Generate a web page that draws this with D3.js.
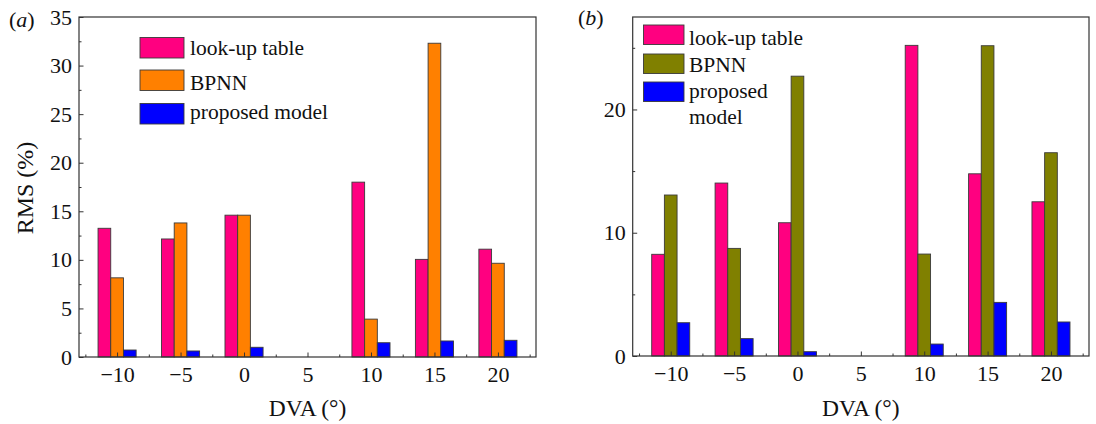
<!DOCTYPE html>
<html>
<head>
<meta charset="utf-8">
<script src="https://cdn.jsdelivr.net/npm/d3@7"></script>
<style>
  html, body { margin: 0; padding: 0; background: #fff; }
  svg { display: block; }
  svg text { font-family: "Liberation Serif", "Times New Roman", Times, Tinos, "DejaVu Serif", serif; fill: #111; }
</style>
</head>
<body>
<svg id="chart" width="1096" height="424"></svg>
<script>
// DVA positions with bars (no measurement at 5°)
const categories = [-10, -5, 0, 10, 15, 20];
const xTickValues = [-10, -5, 0, 5, 10, 15, 20];
const seriesNames = ["look-up table", "BPNN", "proposed model"];

// Panel (a) RMS (%)
const lookupA   = [13.25, 12.15, 14.6, 18.0, 10.05, 11.1];
const bpnnA     = [8.15, 13.8, 14.6, 3.9, 32.3, 9.65];
const proposedA = [0.72, 0.62, 1.0, 1.47, 1.65, 1.72];

// Panel (b) RMS (%)
const lookupB   = [8.25, 14.03, 10.81, 25.2, 14.78, 12.51];
const bpnnB     = [13.06, 8.73, 22.7, 8.27, 25.17, 16.49];
const proposedB = [2.7, 1.41, 0.35, 0.97, 4.35, 2.76];

const yTicksA = [0, 5, 10, 15, 20, 25, 30, 35];
const yMinorA = [2.5, 7.5, 12.5, 17.5, 22.5, 27.5, 32.5];
const yTicksB = [0, 10, 20];
const yMinorB = [5, 15, 25];
const xMinor = [-12.5, -7.5, -2.5, 2.5, 7.5, 12.5, 17.5, 22.5];

const serif = '"Liberation Serif", "Times New Roman", Times, Tinos, "DejaVu Serif", serif';
const svg = d3.select("#chart").attr("font-family", serif);
const fmt = d => d < 0 ? "\u2212" + Math.abs(d) : String(d);

function panel(opts) {
  const x = d3.scaleLinear().domain([-13, 23]).range([opts.left, opts.right]);
  const y = d3.scaleLinear().domain(opts.yDomain).range([opts.bottom, opts.top]);
  const g = svg.append("g");
  const unit = x(1) - x(0);

  // bars
  opts.series.forEach((vals, si) => {
    g.append("g").selectAll("rect")
      .data(vals.map((v, i) => ({ c: categories[i], v })))
      .join("rect")
      .attr("x", d => x(d.c + (si - 1) - 0.5))
      .attr("width", unit)
      .attr("y", d => y(d.v))
      .attr("height", d => y(0) - y(d.v))
      .attr("fill", opts.colors[si])
      .attr("stroke", "#3a3a3a")
      .attr("stroke-width", 0.9);
  });

  // x axis (major + minor, inward ticks)
  const xAxis = g.append("g").attr("transform", `translate(0,${opts.bottom})`)
    .call(d3.axisBottom(x).tickValues(xTickValues).tickFormat(fmt).tickSize(-4.5).tickSizeOuter(0));
  g.append("g").attr("transform", `translate(0,${opts.bottom})`)
    .call(d3.axisBottom(x).tickValues(xMinor).tickFormat("").tickSize(-2.5).tickSizeOuter(0));
  xAxis.selectAll("text").attr("y", 25).attr("dy", null);

  // y axis
  g.append("g").attr("transform", `translate(${opts.left},0)`)
    .call(d3.axisLeft(y).tickValues(opts.yTicks).tickSize(-4.5).tickPadding(7).tickSizeOuter(0));
  g.append("g").attr("transform", `translate(${opts.left},0)`)
    .call(d3.axisLeft(y).tickValues(opts.yMinor).tickFormat("").tickSize(-2.5).tickSizeOuter(0));

  g.selectAll(".tick text").attr("font-family", serif).attr("font-size", 22).attr("fill", "#111");
  g.selectAll("g").attr("font-family", serif);
  g.selectAll(".domain").remove();
  g.selectAll(".tick line").attr("stroke", "#333").attr("stroke-width", 1);

  // frame
  g.append("rect")
    .attr("x", opts.left).attr("y", opts.top)
    .attr("width", opts.right - opts.left).attr("height", opts.bottom - opts.top)
    .attr("fill", "none").attr("stroke", "#333").attr("stroke-width", 1.2);

  // x axis title
  g.append("text")
    .attr("x", (opts.left + opts.right) / 2).attr("y", 416)
    .attr("text-anchor", "middle").attr("font-size", 23.5)
    .text("DVA (\u00b0)");

  // panel tag
  const tag = g.append("text").attr("x", opts.tagX).attr("y", opts.tagY).attr("font-size", 22);
  tag.append("tspan").text("(");
  tag.append("tspan").attr("font-style", "italic").text(opts.tag);
  tag.append("tspan").text(")");

  // legend
  const lg = g.append("g");
  opts.legend.forEach((item, i) => {
    lg.append("rect")
      .attr("x", opts.legendX).attr("y", item.sy)
      .attr("width", opts.swW).attr("height", opts.swH)
      .attr("fill", opts.colors[i]).attr("stroke", "#3a3a3a").attr("stroke-width", 0.9);
    item.lines.forEach((ln, j) => {
      lg.append("text")
        .attr("x", opts.legendTextX).attr("y", item.ty + j * 26)
        .attr("font-size", 21.5)
        .text(ln);
    });
  });
  return { x, y };
}

panel({
  left: 79, right: 536, top: 17, bottom: 357,
  yDomain: [0, 35], yTicks: yTicksA, yMinor: yMinorA,
  series: [lookupA, bpnnA, proposedA],
  colors: ["#ff0080", "#ff8000", "#0000ff"],
  tag: "a", tagX: 9, tagY: 27,
  legendX: 140, legendTextX: 190, swW: 44, swH: 20.5,
  legend: [
    { sy: 37.5, ty: 54.5, lines: [seriesNames[0]] },
    { sy: 70, ty: 90, lines: [seriesNames[1]] },
    { sy: 103.5, ty: 118.5, lines: [seriesNames[2]] }
  ]
});

panel({
  left: 632.7, right: 1089, top: 17, bottom: 356,
  yDomain: [0, 27.5], yTicks: yTicksB, yMinor: yMinorB,
  series: [lookupB, bpnnB, proposedB],
  colors: ["#ff0080", "#808000", "#0000ff"],
  tag: "b", tagX: 578, tagY: 25,
  legendX: 643.5, legendTextX: 689, swW: 40.5, swH: 19.5,
  legend: [
    { sy: 25, ty: 45, lines: [seriesNames[0]] },
    { sy: 54, ty: 71.5, lines: [seriesNames[1]] },
    { sy: 82, ty: 98, lines: ["proposed", "model"] }
  ]
});

// shared y axis title on the left panel
svg.append("text")
  .attr("transform", "translate(33,188) rotate(-90)")
  .attr("text-anchor", "middle")
  .attr("font-size", 24)
  .text("RMS (%)");
</script>
</body>
</html>
